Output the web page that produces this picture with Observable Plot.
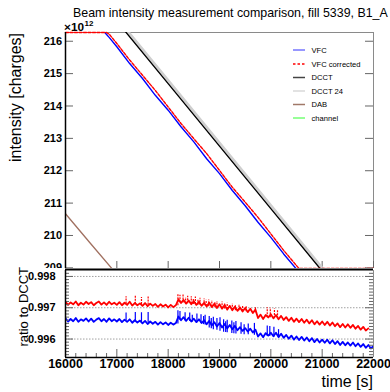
<!DOCTYPE html>
<html><head><meta charset="utf-8">
<script src="https://cdn.jsdelivr.net/npm/d3@7"></script>
<script src="https://cdn.jsdelivr.net/npm/@observablehq/plot@0.6"></script>
<style>
html,body{margin:0;padding:0;background:#fff;}
#wrap{position:relative;width:390px;height:392px;overflow:hidden;font-family:"Liberation Sans",Arial,sans-serif;background:#fff;}
#wrap svg{position:absolute;left:0;}
</style></head><body><div id="wrap"></div>
<script>
// ---------- data ----------
const titleText = "Beam intensity measurement comparison, fill 5339, B1_A";
const xTicks = [16000,17000,18000,19000,20000,21000,22000];
const xMinor = [16200,16400,16600,16800,17200,17400,17600,17800,18200,18400,18600,18800,19200,19400,19600,19800,20200,20400,20600,20800,21200,21400,21600,21800];
const yTicksTop = [209,210,211,212,213,214,215,216];
const ratioTicks = [0.996,0.997,0.998];
const ratioMinor = [0.9955,0.9956,0.9957,0.9958,0.9959,0.9961,0.9962,0.9963,0.9964,0.9965,0.9966,0.9967,0.9968,0.9969,0.9971,0.9972,0.9973,0.9974,0.9975,0.9976,0.9977,0.9978,0.9979,0.9981];

// intensity [1e12 charges]
const vfcTimes = [16000,16500,16750,16800,16850,17000,17250,17500,17750,18000,18250,18500,18750,19000,19250,19500,19750,20000,20250,20500,20550,20750,21000,22000];
const vfcCorrected = [217.89,216.91,216.44,216.32,216.22,215.93,215.42,214.95,214.48,213.97,213.46,212.99,212.53,212.01,211.49,211.03,210.56,210.05,209.54,209.07,208.97,208.58,208.09,206.13];
const vfc = [217.78,216.80,216.30,216.21,216.12,215.83,215.31,214.85,214.33,213.87,213.36,212.89,212.37,211.91,211.39,210.92,210.41,209.94,209.43,208.96,208.86,208.47,207.97,206.01];
const dcctTimes = [16000,17000,18000,19000,20000,21000,22000];
const dcct = [218.55,216.62,214.69,212.76,210.83,208.90,206.97];
const dcct24 = [218.65,216.72,214.79,212.86,210.93,209.00,207.07];
const dabTimes = [16000,16500,17000,18000];
const dab = [210.67,209.73,208.80,206.93];

// ratio to DCCT
const ratioTimes = [16000,16050,16100,16150,16200,16250,16300,16350,16400,16450,16500,16550,16600,16650,16700,16750,16800,16850,16900,16950,17000,
17050,17100,17150,17200,17250,17300,17350,17400,17450,17500,
17550,17600,17650,17700,17750,17800,17850,17900,17950,18000,18050,18100,18150,
18200,18250,18300,18350,18400,18450,18500,18550,18600,18650,18700,
18750,18800,18850,18900,18950,19000,19050,19100,19150,19200,19250,19300,19350,19400,19450,19500,
19550,19600,19650,19700,
19750,19800,19850,19900,19950,20000,
20050,20100,20150,20200,20250,20300,20350,20400,20450,20500,
20550,20600,20650,20700,20750,20800,20850,20900,20950,21000,
21050,21100,21150,21200,21250,21300,21350,21400,21450,21500,
21550,21600,21650,21700,21750,21800,21850,21900,21950,22000];
const ratioCorrected = [0.99719,0.99709,0.99717,0.99711,0.99720,0.99708,0.99716,0.99710,0.99719,0.99712,0.99718,0.99708,0.99715,0.99720,0.99710,0.99717,0.99709,0.99719,0.99711,0.99716,0.99709,
0.99718,0.99708,0.99716,0.99709,0.99719,0.99707,0.99715,0.99708,0.99714,0.99706,
0.99715,0.99705,0.99713,0.99706,0.99712,0.99703,0.99711,0.99704,0.99710,0.99701,0.99709,0.99702,0.99708,
0.99727,0.99715,0.99725,0.99713,0.99723,0.99711,0.99721,0.99709,0.99719,0.99706,0.99716,
0.99704,0.99716,0.99702,0.99713,0.99699,0.99711,0.99697,0.99709,0.99694,0.99706,0.99692,0.99703,0.99690,0.99701,0.99688,0.99699,
0.99686,0.99697,0.99683,0.99694,
0.99667,0.99678,0.99664,0.99677,0.99669,0.99679,
0.99666,0.99677,0.99663,0.99674,0.99661,0.99670,0.99658,0.99668,0.99655,0.99665,
0.99654,0.99664,0.99652,0.99662,0.99650,0.99660,0.99647,0.99657,0.99646,0.99656,
0.99645,0.99655,0.99643,0.99653,0.99641,0.99650,0.99638,0.99648,0.99637,0.99647,
0.99636,0.99645,0.99633,0.99642,0.99630,0.99639,0.99627,0.99634];
const ratioVfc = [0.99666,0.99656,0.99664,0.99657,0.99667,0.99655,0.99663,0.99658,0.99666,0.99656,0.99665,0.99655,0.99662,0.99667,0.99657,0.99664,0.99655,0.99666,0.99657,0.99663,0.99656,
0.99664,0.99654,0.99662,0.99655,0.99663,0.99652,0.99660,0.99653,0.99659,0.99650,
0.99658,0.99648,0.99656,0.99649,0.99655,0.99646,0.99654,0.99647,0.99653,0.99645,0.99652,0.99646,0.99651,
0.99672,0.99660,0.99670,0.99658,0.99668,0.99656,0.99665,0.99654,0.99663,0.99651,0.99660,
0.99647,0.99658,0.99643,0.99654,0.99640,0.99651,0.99637,0.99648,0.99634,0.99645,0.99631,0.99642,0.99628,0.99638,0.99626,0.99635,
0.99624,0.99633,0.99621,0.99630,
0.99608,0.99618,0.99606,0.99619,0.99611,0.99620,
0.99609,0.99620,0.99606,0.99617,0.99604,0.99613,0.99601,0.99611,0.99598,0.99608,
0.99597,0.99607,0.99595,0.99605,0.99593,0.99603,0.99590,0.99600,0.99589,0.99598,
0.99588,0.99598,0.99586,0.99596,0.99584,0.99593,0.99581,0.99591,0.99580,0.99589,
0.99579,0.99589,0.99577,0.99586,0.99575,0.99584,0.99572,0.99581,0.99570,0.99578];

// spikes: time, low, high
const spikeTimesCorr = [17180,17360,17480,17610,18190,18230,18290,18340,18380,18450,18490,18530,18580,18620,18700,18740,18790,18850,18910,18950,19050,19100,19150,19250,19310,19380,19450,19520,19700,19930,19990,20070,20130];
const spikeLoCorr = [0.99712,0.99711,0.99710,0.99709,0.99706,0.99716,0.99715,0.99712,0.99713,0.99712,0.99710,0.99710,0.99708,0.99708,0.99706,0.99704,0.99703,0.99702,0.99700,0.99699,0.99697,0.99696,0.99694,0.99692,0.99690,0.99690,0.99688,0.99687,0.99684,0.99668,0.99668,0.99666,0.99665];
const spikeHiCorr = [0.99735,0.99738,0.99733,0.99736,0.99743,0.99740,0.99741,0.99732,0.99737,0.99735,0.99729,0.99734,0.99727,0.99730,0.99728,0.99724,0.99725,0.99722,0.99718,0.99720,0.99718,0.99714,0.99714,0.99712,0.99709,0.99710,0.99707,0.99706,0.99703,0.99700,0.99698,0.99696,0.99690];
const spikeTimesVfc = [17180,17360,17480,17610,18190,18230,18330,18420,18470,18560,18640,18690,18720,18800,18840,18880,18950,19010,19080,19120,19150,19240,19280,19320,19420,19480,19560,19680,19930,19980,20060,20150];
const spikeLoVfc = [0.99658,0.99656,0.99653,0.99652,0.99648,0.99660,0.99658,0.99656,0.99654,0.99652,0.99650,0.99646,0.99645,0.99635,0.99633,0.99630,0.99628,0.99625,0.99622,0.99621,0.99620,0.99618,0.99617,0.99616,0.99615,0.99614,0.99614,0.99612,0.99608,0.99608,0.99606,0.99604];
const spikeHiVfc = [0.99683,0.99685,0.99684,0.99685,0.99690,0.99688,0.99684,0.99683,0.99676,0.99680,0.99678,0.99672,0.99676,0.99672,0.99666,0.99670,0.99666,0.99668,0.99662,0.99655,0.99660,0.99658,0.99652,0.99656,0.99652,0.99646,0.99648,0.99650,0.99642,0.99640,0.99638,0.99630];

const legendLabels = ["VFC","VFC corrected","DCCT","DCCT 24","DAB","channel"];
const legendColors = ["#3030ff","#ff0000","#444444","#d8d8d8","#a07868","#30ff30"];

// ---------- build ----------
const FONT = "'Liberation Sans', Arial, Helvetica, sans-serif";
const xDomain = [16000, 22000];
const yTopDomain = [208.98, 216.27];
const yBotDomain = [0.99541, 0.99819];
const clampTop = v => Math.min(yTopDomain[1], Math.max(yTopDomain[0], v));

const pts = (ts, vs) => ts.map((t, i) => ({t, v: vs[i]}));
const spikes = (ts, lo, hi) => ts.map((t, i) => ({t, lo: lo[i], hi: hi[i]}));

const topChart = Plot.plot({
  width: 390, height: 275,
  marginLeft: 65, marginRight: 17, marginTop: 32, marginBottom: 7,
  x: {domain: xDomain, axis: null},
  y: {domain: yTopDomain, axis: null},
  style: {fontFamily: FONT, background: "transparent", overflow: "visible"},
  marks: [
    Plot.ruleY([yTopDomain[1]], {stroke: "#8a8a8a", strokeWidth: 1}),
    Plot.ruleX([xDomain[1]], {stroke: "#8a8a8a", strokeWidth: 1}),
    Plot.tickY(yTicksTop, {y: d => d, stroke: "#666", insetRight: 300}),
    Plot.tickY(yTicksTop, {y: d => d, stroke: "#666", insetLeft: 300}),
    Plot.tickX(xTicks, {x: d => d, stroke: "#666", insetTop: 229}),
    Plot.line(pts(dabTimes, dab), {x: "t", y: "v", stroke: "#a07060", strokeWidth: 1.3, clip: true}),
    Plot.line(pts(dcctTimes, dcct24), {x: "t", y: "v", stroke: "#cfcfcf", strokeWidth: 2.6, clip: true}),
    Plot.line(pts(dcctTimes, dcct), {x: "t", y: "v", stroke: "#000", strokeWidth: 1.4, clip: true}),
    Plot.line(pts(vfcTimes, vfc), {x: "t", y: "v", stroke: "#0000ff", strokeWidth: 1.4, clip: true}),
    Plot.line(pts(vfcTimes, vfcCorrected.map(clampTop)), {x: "t", y: "v", stroke: "#ff0000", strokeWidth: 1.4, strokeDasharray: "3,1.5"}),
    Plot.ruleX([xDomain[0]], {stroke: "#000", strokeWidth: 1.5}),
    Plot.text(yTicksTop, {y: d => d, text: d => String(d), frameAnchor: "left", textAnchor: "end", dx: -3.5, fontWeight: "bold", fontSize: 11, fill: "#000"})
  ]
});
topChart.style.top = "0px";

const botChart = Plot.plot({
  width: 390, height: 124,
  marginLeft: 65, marginRight: 17, marginTop: 2, marginBottom: 35,
  x: {domain: xDomain, axis: null},
  y: {domain: yBotDomain, axis: null},
  style: {fontFamily: FONT, background: "#fff", overflow: "visible"},
  marks: [
    Plot.ruleY(ratioTicks, {y: d => d, stroke: "#a0a0a0", strokeDasharray: "1.5,1.5"}),
    Plot.ruleX(spikes(spikeTimesVfc, spikeLoVfc, spikeHiVfc), {x: "t", y1: "lo", y2: "hi", stroke: "#0000ff", strokeWidth: 1.2}),
    Plot.line(pts(ratioTimes, ratioVfc), {x: "t", y: "v", stroke: "#0000ff", strokeWidth: 1.8, clip: true}),
    Plot.ruleX(spikes(spikeTimesCorr, spikeLoCorr, spikeHiCorr), {x: "t", y1: "lo", y2: "hi", stroke: "#ff0000", strokeWidth: 1.2, strokeDasharray: "2,1"}),
    Plot.line(pts(ratioTimes.slice(0, ratioCorrected.length), ratioCorrected), {x: "t", y: "v", stroke: "#ff0000", strokeWidth: 1.8, clip: true}),
    Plot.tickY(ratioMinor, {y: d => d, stroke: "#666", insetRight: 304}),
    Plot.tickY(ratioTicks, {y: d => d, stroke: "#666", insetRight: 300}),
    Plot.tickY(ratioMinor, {y: d => d, stroke: "#666", insetLeft: 304}),
    Plot.tickY(ratioTicks, {y: d => d, stroke: "#666", insetLeft: 300}),
    Plot.tickX(xMinor, {x: d => d, stroke: "#666", insetTop: 83}),
    Plot.tickX(xTicks, {x: d => d, stroke: "#666", insetTop: 79}),
    Plot.ruleX([xDomain[1]], {stroke: "#8a8a8a", strokeWidth: 1}),
    Plot.ruleX([xDomain[0]], {stroke: "#000", strokeWidth: 1.5}),
    Plot.ruleY([yBotDomain[0]], {stroke: "#000", strokeWidth: 1.5}),
    Plot.ruleY([yBotDomain[1]], {stroke: "#000", strokeWidth: 2, dy: -1}),
    Plot.text(ratioTicks, {y: d => d, text: d => d.toFixed(3), frameAnchor: "left", textAnchor: "end", dx: -10, fontWeight: "bold", fontSize: 11, fill: "#000"}),
    Plot.text(xTicks, {x: d => d, text: d => String(d), frameAnchor: "bottom", dy: 10, fontWeight: "bold", fontSize: 12.5, fill: "#000"})
  ]
});
botChart.style.top = "268px";

const wrap = document.getElementById("wrap");
wrap.appendChild(topChart);
wrap.appendChild(botChart);

// overlay: titles, exponent, legend
const ov = d3.create("svg").attr("width", 390).attr("height", 392).attr("viewBox", "0 0 390 392")
  .style("top", "0px").style("font-family", FONT).style("pointer-events", "none");
ov.append("text").attr("x", 73).attr("y", 17).attr("font-size", 12.4).text(titleText);
ov.append("text").attr("x", 64).attr("y", 30.5).attr("font-size", 11.8).attr("font-weight", "bold").text("\u00d710");
ov.append("text").attr("x", 84.5).attr("y", 25.5).attr("font-size", 8).attr("font-weight", "bold").text("12");
ov.append("text").attr("transform", "translate(21,33) rotate(-90)").attr("text-anchor", "end").attr("font-size", 16).text("intensity [charges]");
ov.append("text").attr("transform", "translate(28,267) rotate(-90)").attr("text-anchor", "end").attr("font-size", 13).text("ratio to DCCT");
ov.append("text").attr("x", 373).attr("y", 387).attr("text-anchor", "end").attr("font-size", 16).text("time [s]");
const legY = [50, 64, 77.5, 91, 104.5, 118];
legendLabels.forEach((lab, i) => {
  const g = ov.append("g");
  g.append("line").attr("x1", 293).attr("x2", 305).attr("y1", legY[i]).attr("y2", legY[i])
    .attr("stroke", legendColors[i]).attr("stroke-width", i === 5 || i === 0 ? 1 : 1.5)
    .attr("stroke-dasharray", i === 1 ? "2.5,2" : null);
  g.append("text").attr("x", 311.5).attr("y", legY[i] + 2.7).attr("font-size", 7.6).text(lab);
});
wrap.appendChild(ov.node());
</script>
</body></html>
